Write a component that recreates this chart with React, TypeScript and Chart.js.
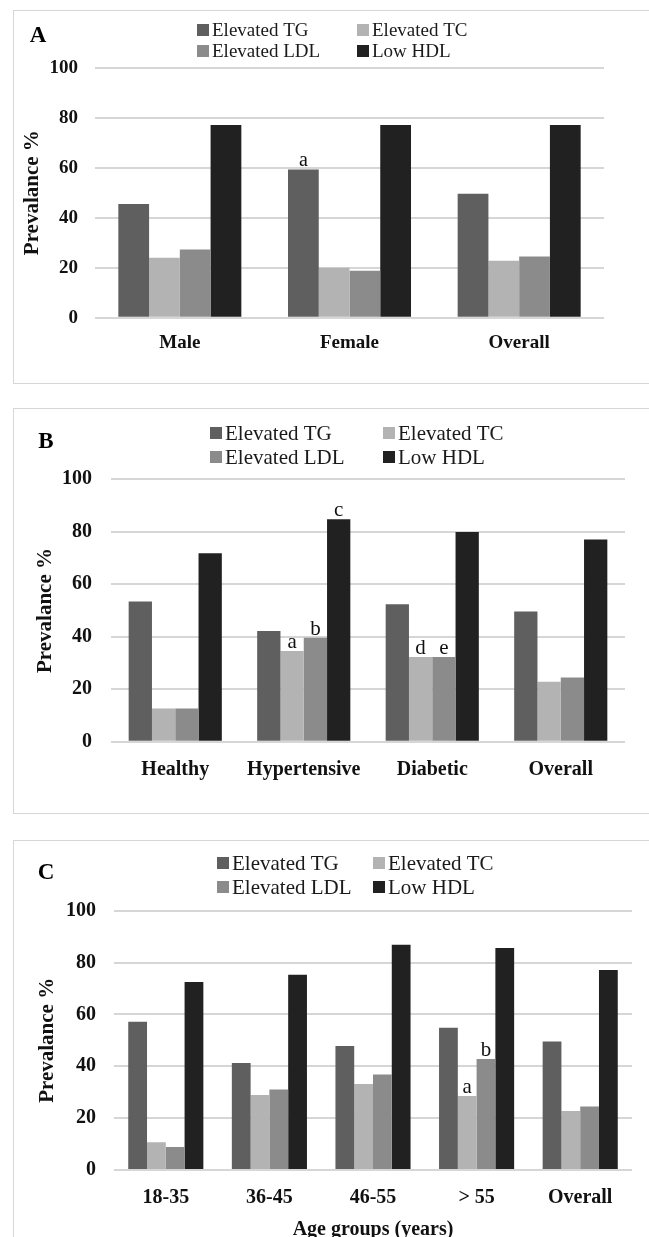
import React, { useEffect, useRef } from "react";
import { Chart, registerables } from "chart.js";

Chart.register(...registerables);

const FONT = "'Times New Roman', 'Liberation Serif', serif";

// ---- data ----
const seriesLabels = ["Elevated TG", "Elevated TC", "Elevated LDL", "Low HDL"];
const seriesColors = ["#5f5f5f", "#b3b3b3", "#8b8b8b", "#212121"];
const yTickStep = 20;
const yMax = 100;

const categoriesA = ["Male", "Female", "Overall"];
const tgA = [45.5, 59.3, 49.6];
const tcA = [24.0, 20.0, 22.8];
const ldlA = [27.3, 18.8, 24.5];
const hdlA = [77.1, 77.1, 77.1];
const notesA = [{ series: 0, index: 1, text: "a" }];

const categoriesB = ["Healthy", "Hypertensive", "Diabetic", "Overall"];
const tgB = [53.4, 42.2, 52.4, 49.6];
const tcB = [12.7, 34.6, 32.3, 22.8];
const ldlB = [12.7, 39.6, 32.3, 24.5];
const hdlB = [71.8, 84.8, 79.9, 77.1];
const notesB = [
  { series: 1, index: 1, text: "a" },
  { series: 2, index: 1, text: "b" },
  { series: 3, index: 1, text: "c" },
  { series: 1, index: 2, text: "d" },
  { series: 2, index: 2, text: "e" },
];

const categoriesC = ["18-35", "36-45", "46-55", "> 55", "Overall"];
const tgC = [57.2, 41.3, 47.8, 54.9, 49.6];
const tcC = [10.7, 28.9, 33.2, 28.5, 22.8];
const ldlC = [8.9, 31.0, 36.8, 42.8, 24.5];
const hdlC = [72.5, 75.3, 86.9, 85.6, 77.1];
const notesC = [
  { series: 1, index: 3, text: "a" },
  { series: 2, index: 3, text: "b" },
];

// ---- decoration plugin: panel letter, 2x2 legend, significance letters ----
const decorPlugin = {
  id: "decor",
  afterDraw(chart: any, _args: any, opts: any) {
    const ctx = chart.ctx;
    ctx.save();
    ctx.fillStyle = "#000";
    ctx.font = `bold ${opts.letterSize}px ${FONT}`;
    ctx.textAlign = "center";
    ctx.textBaseline = "middle";
    ctx.fillText(opts.letter, opts.letterX, opts.letterY);

    ctx.font = `${opts.legendSize}px ${FONT}`;
    ctx.textAlign = "left";
    chart.data.datasets.forEach((ds: any, i: number) => {
      const x = opts.legendX[i % 2];
      const y = opts.legendY[Math.floor(i / 2)];
      ctx.fillStyle = ds.backgroundColor;
      ctx.fillRect(x, y - 6, 12, 12);
      ctx.fillStyle = "#1a1a1a";
      ctx.fillText(ds.label, x + 15, y + 1);
    });

    ctx.font = `${opts.noteSize}px ${FONT}`;
    ctx.textAlign = "center";
    ctx.textBaseline = "alphabetic";
    ctx.fillStyle = "#111";
    (opts.notes || []).forEach((n: any) => {
      const el = chart.getDatasetMeta(n.series).data[n.index];
      ctx.fillText(n.text, el.x, el.y - 3);
    });
    ctx.restore();
  },
};

type PanelProps = {
  top: number;
  height: number;
  boxTop: number;
  boxHeight: number;
  categories: string[];
  series: number[][];
  notes: { series: number; index: number; text: string }[];
  letter: string;
  letterX: number;
  letterY: number;
  letterSize: number;
  legendX: number[];
  legendY: number[];
  legendSize: number;
  noteSize: number;
  area: { left: number; right: number; top: number; bottom: number };
  xAxisHeight: number;
  tickSize: number;
  catSize: number;
  yTickPad: number;
  xTickPad: number;
  yTitlePad: number;
  xTitle?: string;
  xTitlePad?: number;
};

function Panel(p: PanelProps) {
  const ref = useRef<HTMLCanvasElement>(null);
  useEffect(() => {
    if (!ref.current) return;
    const chart = new Chart(ref.current, {
      type: "bar",
      data: {
        labels: p.categories,
        datasets: p.series.map((vals, i) => ({
          label: seriesLabels[i],
          data: vals,
          backgroundColor: seriesColors[i],
          borderWidth: 0,
          categoryPercentage: 0.725,
          barPercentage: 1.0,
        })),
      },
      options: {
        animation: false,
        responsive: false,
        maintainAspectRatio: false,
        layout: {
          padding: {
            left: 0,
            right: 649 - p.area.right,
            top: p.area.top,
            bottom: p.height - p.area.bottom - p.xAxisHeight,
          },
        },
        plugins: {
          legend: { display: false },
          tooltip: { enabled: false },
          decor: {
            letter: p.letter,
            letterX: p.letterX,
            letterY: p.letterY,
            letterSize: p.letterSize,
            legendX: p.legendX,
            legendY: p.legendY,
            legendSize: p.legendSize,
            noteSize: p.noteSize,
            notes: p.notes,
          },
        } as any,
        scales: {
          x: {
            grid: { display: false },
            border: { display: false },
            ticks: {
              color: "#111",
              padding: p.xTickPad,
              font: { family: FONT, size: p.catSize, weight: "bold" },
              maxRotation: 0,
              autoSkip: false,
            },
            title: p.xTitle
              ? {
                  display: true,
                  text: p.xTitle,
                  color: "#111",
                  font: { family: FONT, size: 20, weight: "bold" },
                  padding: { top: 0, bottom: p.xTitlePad || 0 },
                }
              : { display: false },
            afterFit: (s: any) => {
              s.height = p.xAxisHeight;
            },
          },
          y: {
            min: 0,
            max: yMax,
            grid: { color: "#d6d6d6", lineWidth: 2, drawTicks: false },
            border: { display: false },
            ticks: {
              stepSize: yTickStep,
              color: "#111",
              padding: p.yTickPad,
              font: { family: FONT, size: p.tickSize, weight: "bold" },
            },
            title: {
              display: true,
              text: "Prevalance %",
              color: "#111",
              font: { family: FONT, size: 21, weight: "bold" },
              padding: { top: p.yTitlePad, bottom: 0 },
            },
            afterFit: (s: any) => {
              s.width = p.area.left;
            },
          },
        },
      },
      plugins: [decorPlugin as any],
    });
    return () => chart.destroy();
  }, []);

  return (
    <>
      <div
        style={{
          position: "absolute",
          left: 13,
          top: p.boxTop,
          width: 700,
          height: p.boxHeight,
          border: "1px solid #d6d6d6",
          boxSizing: "border-box",
        }}
      />
      <canvas
        ref={ref}
        width={649}
        height={p.height}
        style={{
          position: "absolute",
          left: 0,
          top: p.top,
          width: 649,
          height: p.height,
          display: "block",
        }}
      />
    </>
  );
}

export default function App() {
  return (
    <div
      style={{
        position: "absolute",
        left: 0,
        top: 0,
        width: 649,
        height: 1237,
        overflow: "hidden",
        background: "#fff",
      }}
    >
      <Panel
        top={0}
        height={390}
        boxTop={10}
        boxHeight={374}
        categories={categoriesA}
        series={[tgA, tcA, ldlA, hdlA]}
        notes={notesA}
        letter="A"
        letterX={38}
        letterY={36}
        letterSize={23}
        legendX={[197, 357]}
        legendY={[30, 51]}
        legendSize={19}
        noteSize={20}
        area={{ left: 95, right: 604, top: 67.7, bottom: 317.7 }}
        xAxisHeight={50}
        tickSize={19}
        catSize={19}
        yTickPad={17}
        xTickPad={6}
        yTitlePad={20}
      />
      <Panel
        top={395}
        height={425}
        boxTop={408}
        boxHeight={406}
        categories={categoriesB}
        series={[tgB, tcB, ldlB, hdlB]}
        notes={notesB}
        letter="B"
        letterX={46}
        letterY={442 - 395}
        letterSize={23}
        legendX={[210, 383]}
        legendY={[433 - 395, 457 - 395]}
        legendSize={21}
        noteSize={21}
        area={{ left: 111, right: 625, top: 479.3 - 395, bottom: 741.7 - 395 }}
        xAxisHeight={50}
        tickSize={20}
        catSize={20}
        yTickPad={19}
        xTickPad={8}
        yTitlePad={33}
      />
      <Panel
        top={825}
        height={430}
        boxTop={840}
        boxHeight={420}
        categories={categoriesC}
        series={[tgC, tcC, ldlC, hdlC]}
        notes={notesC}
        letter="C"
        letterX={46}
        letterY={873 - 825}
        letterSize={23}
        legendX={[217, 373]}
        legendY={[863 - 825, 887 - 825]}
        legendSize={21}
        noteSize={21}
        area={{ left: 114, right: 632, top: 910.7 - 825, bottom: 1170 - 825 }}
        xAxisHeight={85}
        tickSize={20}
        catSize={20}
        yTickPad={18}
        xTickPad={8}
        yTitlePad={35}
        xTitle="Age groups (years)"
        xTitlePad={13}
      />
    </div>
  );
}
